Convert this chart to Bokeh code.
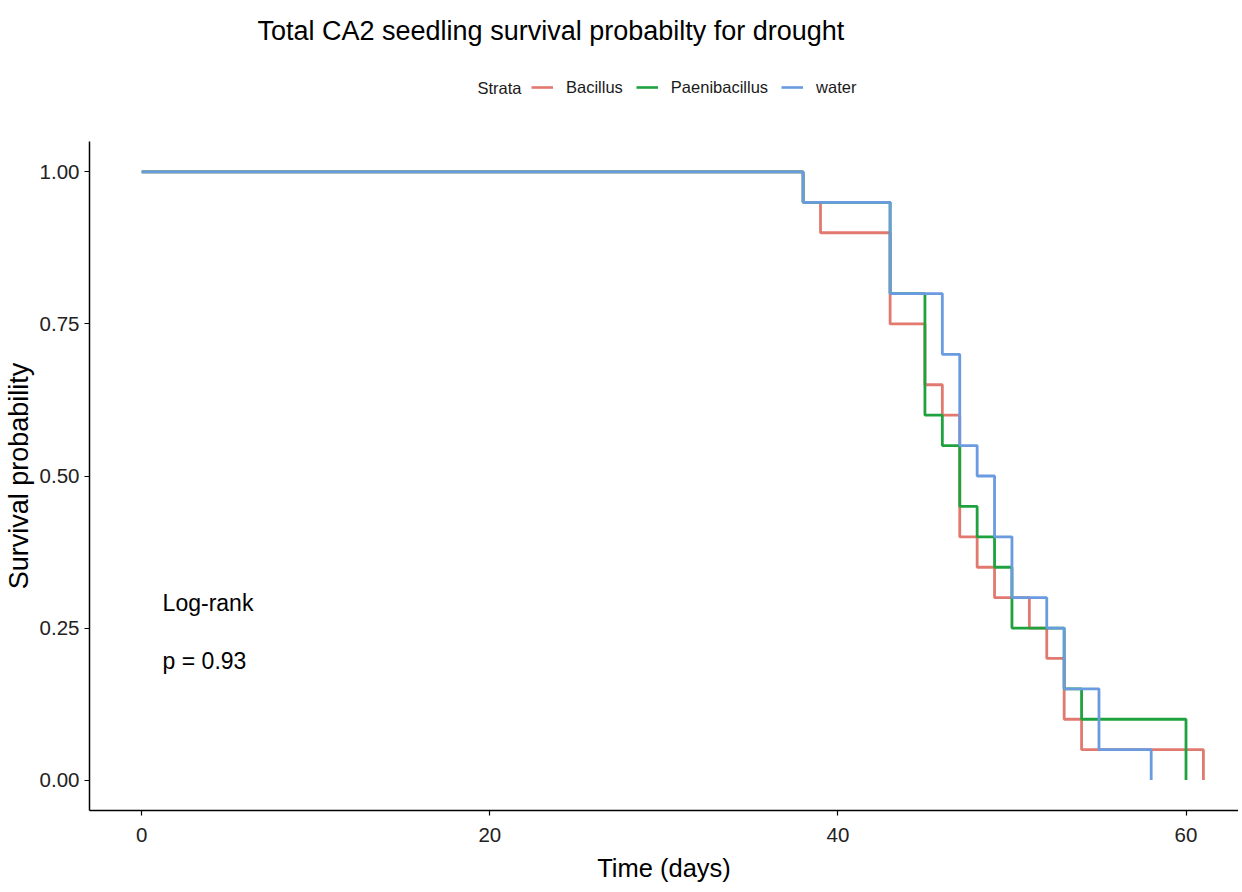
from bokeh.plotting import figure
from bokeh.layouts import column
from bokeh.models import Range1d, FixedTicker, Legend, LegendItem, Label, NumeralTickFormatter
from bokeh.embed import file_html
from bokeh.resources import INLINE

# ---- data (Kaplan-Meier step curves) ----
strata = ["Bacillus", "Paenibacillus", "water"]

bacillus_time = [0, 38, 39, 43, 45, 46, 47, 48, 49, 51, 52, 53, 54, 61]
bacillus_surv = [1.00, 0.95, 0.90, 0.75, 0.65, 0.60, 0.40, 0.35, 0.30, 0.25, 0.20, 0.10, 0.05, 0.00]

paeni_time = [0, 38, 43, 45, 46, 47, 48, 49, 50, 53, 54, 60]
paeni_surv = [1.00, 0.95, 0.80, 0.60, 0.55, 0.45, 0.40, 0.35, 0.25, 0.15, 0.10, 0.00]

water_time = [0, 38, 43, 46, 47, 48, 49, 50, 52, 53, 55, 58]
water_surv = [1.00, 0.95, 0.80, 0.70, 0.55, 0.50, 0.40, 0.30, 0.25, 0.15, 0.05, 0.00]

x_ticks = [0, 20, 40, 60]
y_ticks = [0.0, 0.25, 0.50, 0.75, 1.00]

colors = ["#E2796F", "#1FA23E", "#6A9BE0"]
FONT = "Liberation Sans"
W = 1238
HEAD_H = 120
LEFT = 88  # frame left border (shared by both figures in the column)

series = [(bacillus_time, bacillus_surv), (paeni_time, paeni_surv), (water_time, water_surv)]

# ---- header: title + legend (its data range is off the series, so only the legend shows) ----
head = figure(width=W, height=HEAD_H, output_backend="svg", toolbar_location=None,
              x_axis_type=None, y_axis_type=None,
              x_range=Range1d(100, 101), y_range=Range1d(100, 101),
              min_border_left=LEFT, min_border_right=0, min_border_top=0, min_border_bottom=0)
head.grid.grid_line_color = None
head.outline_line_color = None
head.border_fill_color = "white"
head.background_fill_color = "white"

head.add_layout(Label(x=256 - LEFT, y=HEAD_H - 30, x_units="screen", y_units="screen",
                      text="Total CA2 seedling survival probabilty for drought",
                      text_font=FONT, text_font_size="27px", text_baseline="middle",
                      text_align="left", text_color="#000000"))
head.add_layout(Label(x=476 - LEFT, y=HEAD_H - 87, x_units="screen", y_units="screen",
                      text="Strata", text_font=FONT, text_font_size="16.5px",
                      text_baseline="middle", text_align="left", text_color="#1a1a1a"))

leg_items = []
for name, (t, s), c in zip(strata, series, colors):
    r = head.step(t, s, mode="after", line_color=c, line_width=2.6)
    leg_items.append(LegendItem(label=name, renderers=[r]))
legend = Legend(items=leg_items, orientation="horizontal", location=(530 - LEFT, HEAD_H - 87 - 10),
                glyph_width=22, glyph_height=20, label_height=20, label_standoff=13, spacing=13,
                label_text_font=FONT, label_text_font_size="16.5px", label_text_color="#1a1a1a",
                border_line_alpha=0, background_fill_alpha=0, padding=0, margin=0)
head.add_layout(legend, "center")

# ---- main survival plot ----
p = figure(width=W, height=884 - HEAD_H, output_backend="svg", toolbar_location=None,
           x_range=Range1d(-3.0, -3.0 + 1150 / 17.42), y_range=Range1d(-0.05, 1.05),
           min_border_left=LEFT, min_border_right=0, min_border_top=21, min_border_bottom=73)

for (t, s), c in zip(series, colors):
    p.step(t, s, mode="after", line_color=c, line_width=2.8)

p.add_layout(Label(x=1.2, y=0.292, text="Log-rank", text_font=FONT, text_font_size="23px",
                   text_baseline="middle", text_align="left", text_color="#000000"))
p.add_layout(Label(x=1.2, y=0.195, text="p = 0.93", text_font=FONT, text_font_size="23px",
                   text_baseline="middle", text_align="left", text_color="#000000"))

for ax in (p.xaxis, p.yaxis):
    ax.axis_line_color = "#000000"
    ax.axis_line_width = 1.5
    ax.major_tick_line_color = "#000000"
    ax.major_tick_line_width = 1.2
    ax.major_tick_out = 5
    ax.major_tick_in = 0
    ax.minor_tick_line_color = None
    ax.major_label_text_font = FONT
    ax.major_label_text_font_size = "20.5px"
    ax.major_label_text_color = "#222222"
    ax.axis_label_text_font = FONT
    ax.axis_label_text_font_style = "normal"
    ax.axis_label_text_color = "#000000"

p.xaxis.axis_label_text_font_size = "25.5px"
p.yaxis.axis_label_text_font_size = "27px"
p.xaxis.ticker = FixedTicker(ticks=x_ticks)
p.yaxis.ticker = FixedTicker(ticks=y_ticks)
p.yaxis.formatter = NumeralTickFormatter(format="0.00")
p.xaxis.axis_label = "Time (days)"
p.yaxis.axis_label = "Survival probability"
p.xaxis.major_label_standoff = 12
p.yaxis.major_label_standoff = 5
p.xaxis.axis_label_standoff = 9
p.yaxis.axis_label_standoff = 3

p.xgrid.grid_line_color = None
p.ygrid.grid_line_color = None
p.outline_line_color = None
p.background_fill_color = "white"
p.border_fill_color = "white"

layout = column(head, p, spacing=0)
open("out.html", "w").write(file_html(layout, INLINE))
